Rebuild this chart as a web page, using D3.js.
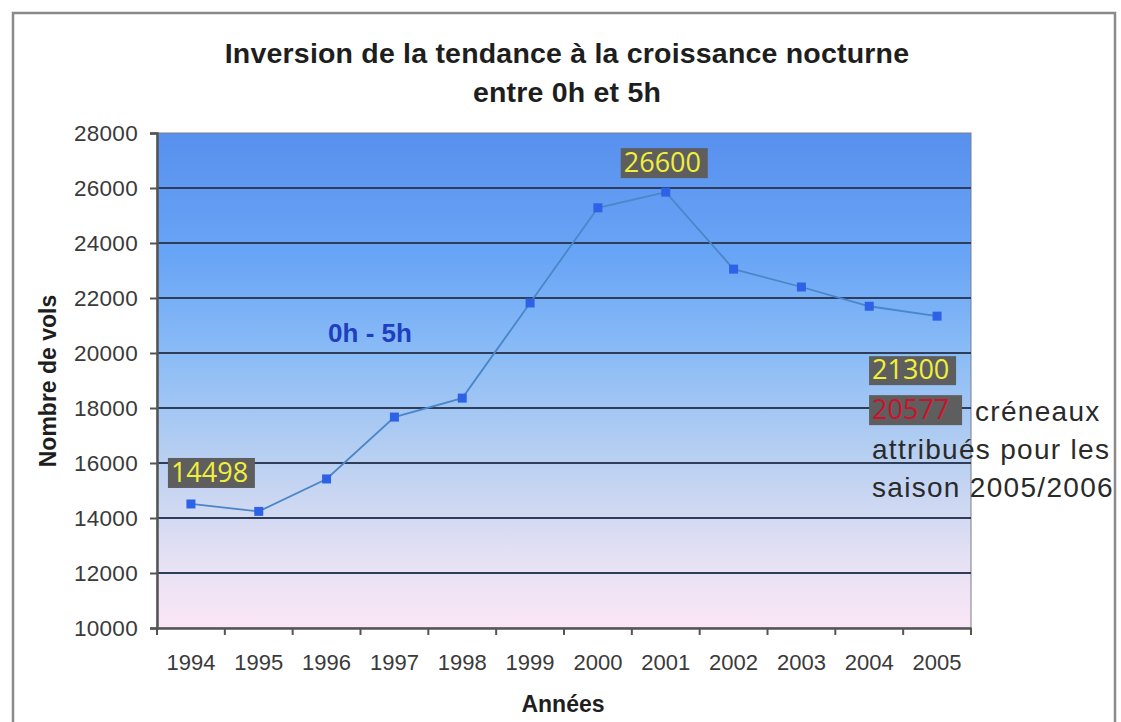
<!DOCTYPE html>
<html><head><meta charset="utf-8">
<script src="https://cdn.jsdelivr.net/npm/d3@7"></script>
<style>
body{margin:0;background:#fff;}
svg{display:block;}
</style></head>
<body><svg id="c" width="1121" height="722"></svg>
<script>
const years = ["1994","1995","1996","1997","1998","1999","2000","2001","2002","2003","2004","2005"];
const flights = [14510, 14240, 15420, 17670, 18360, 21820, 25280, 25850, 23050, 22400, 21700, 21340];
const yTicks = [10000,12000,14000,16000,18000,20000,22000,24000,26000,28000];
const titleLines = ["Inversion de la tendance à la croissance nocturne","entre 0h et 5h"];

const svg = d3.select("#c");
const m = {l:157, r:971, t:133, b:628};
const x = d3.scaleBand().domain(years).range([m.l, m.r]);
const y = d3.scaleLinear().domain([10000,28000]).range([m.b, m.t]);
const FONT = "Liberation Sans, Arial, sans-serif";

// outer frame
svg.append("rect").attr("x",13).attr("y",13).attr("width",1102).attr("height",720)
  .attr("fill","#fff").attr("stroke","#8a8a8a").attr("stroke-width",2.5);

// gradient
const defs = svg.append("defs");
const g = defs.append("linearGradient").attr("id","bg").attr("x1",0).attr("y1",0).attr("x2",0).attr("y2",1);
[[0,"#5890ee"],[0.25,"#69a5f6"],[0.45,"#8bbcf6"],[0.65,"#b7cff1"],[0.85,"#e3e0f3"],[1,"#fbe6f6"]]
  .forEach(([o,c])=>g.append("stop").attr("offset",o).attr("stop-color",c));

svg.append("rect").attr("x",m.l).attr("y",m.t).attr("width",m.r-m.l).attr("height",m.b-m.t)
  .attr("fill","url(#bg)").attr("stroke","#7a7f8a").attr("stroke-width",1);

// gridlines
svg.append("g").selectAll("line").data(yTicks.filter(d=>d>10000 && d<28000)).join("line")
  .attr("x1",m.l).attr("x2",m.r).attr("y1",d=>y(d)).attr("y2",d=>y(d))
  .attr("stroke","#2e3d5a").attr("stroke-width",2);

// y axis
const ya = svg.append("g").attr("transform",`translate(${m.l},0)`)
  .call(d3.axisLeft(y).tickValues(yTicks).tickFormat(d3.format("d")).tickSize(7).tickPadding(12));
ya.select(".domain").attr("stroke","#555").attr("stroke-width",2.5);
ya.selectAll(".tick line").attr("stroke","#555").attr("stroke-width",2);
ya.selectAll("text").attr("font-family",FONT).attr("font-size",22.5)
  .attr("fill","#3a3a3a").attr("letter-spacing","0.3");

// x axis
const xa = svg.append("g").attr("transform",`translate(0,${m.b})`)
  .call(d3.axisBottom(x).tickSize(0).tickPadding(26));
xa.select(".domain").attr("stroke","#555").attr("stroke-width",2.5);
xa.selectAll("text").attr("font-family",FONT).attr("font-size",22)
  .attr("fill","#3a3a3a").attr("letter-spacing","0");
// boundary ticks
const bounds = years.map(d=>x(d)).concat([m.r]);
svg.append("g").selectAll("line").data(bounds).join("line")
  .attr("x1",d=>d).attr("x2",d=>d).attr("y1",m.b).attr("y2",m.b+7)
  .attr("stroke","#555").attr("stroke-width",2);

// line
const cx = d=>x(d)+x.bandwidth()/2;
const pts = years.map((yr,i)=>[cx(yr), y(flights[i])]);
svg.append("path").attr("d",d3.line()(pts)).attr("fill","none")
  .attr("stroke","#4a86c8").attr("stroke-width",1.8);
svg.append("g").selectAll("rect").data(pts).join("rect")
  .attr("x",d=>d[0]-4.5).attr("y",d=>d[1]-4.5).attr("width",9).attr("height",9)
  .attr("fill","#2e62e6");

// title
svg.append("text").attr("text-anchor","middle")
  .attr("font-family",FONT).attr("font-weight","bold")
  .attr("font-size",28.5).attr("fill","#1e1e1e").attr("letter-spacing","0.2")
  .selectAll("tspan").data(titleLines).join("tspan")
  .attr("x",567).attr("y",(d,i)=>63+i*39).text(d=>d);

// axis titles
svg.append("text").attr("transform","translate(56,381) rotate(-90)").attr("text-anchor","middle")
  .attr("font-family",FONT).attr("font-weight","bold")
  .attr("font-size",23).attr("fill","#1e1e1e").text("Nombre de vols");
svg.append("text").attr("x",563).attr("y",712).attr("text-anchor","middle")
  .attr("font-family",FONT).attr("font-weight","bold")
  .attr("font-size",23).attr("fill","#1e1e1e").text("Années");

// series label
svg.append("text").attr("x",370).attr("y",342).attr("text-anchor","middle")
  .attr("font-family",FONT).attr("font-weight","bold")
  .attr("font-size",26).attr("fill","#1e3fc0").text("0h - 5h");

// callout boxes
function box(xl, yt, w, h, text, color){
  svg.append("rect").attr("x",xl).attr("y",yt).attr("width",w).attr("height",h).attr("fill","#5e5e5e");
  svg.append("text").attr("x",xl+3).attr("y",yt+h-6)
    .attr("font-family","Open Sans, sans-serif").attr("font-size",27)
    .attr("fill",color).text(text);
}
const i94 = years.indexOf("1994"), i01 = years.indexOf("2001"), i05 = years.indexOf("2005");
box(cx("1994")-23, y(flights[i94])-46, 87, 30, "14498", "#f0f03c");
box(cx("2001")-45, y(flights[i01])-44, 87, 30, "26600", "#f0f03c");
box(cx("2005")-68, y(flights[i05])+40, 87, 29, "21300", "#f0f03c");
box(cx("2005")-68, y(flights[i05])+79, 93, 30, "20577", "#d0102a");

// note text
const note = svg.append("text").attr("font-family",FONT).attr("font-size",28)
  .attr("fill","#2a2a2a").attr("letter-spacing","1.3");
note.append("tspan").attr("x",975).attr("y",421).text("créneaux");
note.append("tspan").attr("x",872).attr("y",459).text("attribués pour les");
note.append("tspan").attr("x",872).attr("y",497).text("saison 2005/2006");
</script>
</body></html>
